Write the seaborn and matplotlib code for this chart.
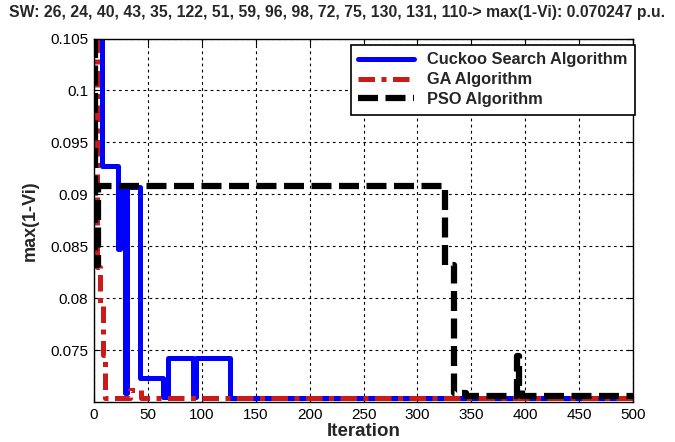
import matplotlib
matplotlib.use("Agg")
import matplotlib.pyplot as plt
import seaborn as sns
import numpy as np
import pandas as pd

# ---------------- data ----------------
title_text = "SW: 26, 24, 40, 43, 35, 122, 51, 59, 96, 98, 72, 75, 130, 131, 110-> max(1-Vi): 0.070247 p.u."

cs_iter = [0, 7, 22, 24, 26, 29, 31, 43, 64, 69, 92, 95, 126, 500]
cs_vals = [0.1050, 0.0927, 0.0847, 0.0885, 0.0907, 0.0709, 0.0907, 0.0723,
           0.0705, 0.0742, 0.0705, 0.0742, 0.0704, 0.0704]

ga_iter = [0, 3, 6, 8, 10, 33, 44, 500]
ga_vals = [0.1050, 0.0830, 0.0795, 0.0745, 0.0704, 0.0712, 0.0704, 0.0704]

pso_iter = [0, 1, 4, 326, 334, 345, 392, 394, 397, 500]
pso_vals = [0.1050, 0.0832, 0.0908, 0.0832, 0.0709, 0.0706, 0.0744, 0.0712,
            0.0706, 0.0706]

labels = ["Cuckoo Search Algorithm", "GA Algorithm", "PSO Algorithm"]
x_ticks = [0, 50, 100, 150, 200, 250, 300, 350, 400, 450, 500]
y_ticks = [0.075, 0.08, 0.085, 0.09, 0.095, 0.1, 0.105]

# ---------------- style ----------------
sns.set_theme(style="ticks")
plt.rcParams["font.family"] = ["Liberation Sans", "DejaVu Sans"]

W, H = 675, 442
fig = plt.figure(figsize=(W / 100, H / 100), dpi=100)
fig.patch.set_facecolor("white")
ax = fig.add_axes([94 / W, 1 - 402 / H, (633 - 94) / W, (402 - 38.5) / H])
ax.set_facecolor("white")

sns.lineplot(x=cs_iter, y=cs_vals, ax=ax, drawstyle="steps-post",
             estimator=None, sort=False, color="#0000ff", lw=3.6,
             label=labels[0])
sns.lineplot(x=ga_iter, y=ga_vals, ax=ax, drawstyle="steps-post",
             estimator=None, sort=False, color="#cc1a1a", lw=3.6,
             linestyle=(0, (3.3, 1.3, 1.0, 1.3)), label=labels[1])
sns.lineplot(x=pso_iter, y=pso_vals, ax=ax, drawstyle="steps-post",
             estimator=None, sort=False, color="black", lw=4.5,
             linestyle=(0, (3.2, 1.2)), label=labels[2])

ax.set_xlim(0, 500)
ax.set_ylim(0.070, 0.105)
ax.set_xticks(x_ticks)
ax.set_xticklabels([str(v) for v in x_ticks])
ax.set_yticks(y_ticks)
ax.set_yticklabels(["%g" % v for v in y_ticks])

ax.grid(True, color="black", linestyle=(0, (2.5, 3)), lw=0.8)
ax.tick_params(direction="in", length=4, width=0.8, top=True, right=True,
               labelsize=11, colors="black", pad=4)
for s in ax.spines.values():
    s.set_color("black")
    s.set_linewidth(1.0)
    s.set_visible(True)

ax.set_xlabel("Iteration", fontsize=13.5, fontweight="bold", labelpad=1)
ax.set_ylabel("max(1-Vi)", fontsize=13, fontweight="bold", labelpad=8)
fig.text(0.5, 1 - 13 / H, title_text, ha="center", va="center",
         fontsize=11.3, fontweight="bold")

leg = ax.legend(loc="upper right", bbox_to_anchor=(635 / W, 1 - 45 / H),
                bbox_transform=fig.transFigure, borderaxespad=0,
                prop={"weight": "bold", "size": 11.8}, handlelength=3.4,
                handletextpad=0.8, labelspacing=0.3, borderpad=0.45,
                fancybox=False, framealpha=1, edgecolor="black")
leg.get_frame().set_linewidth(1.2)

fig.savefig("out.png", dpi=100)
